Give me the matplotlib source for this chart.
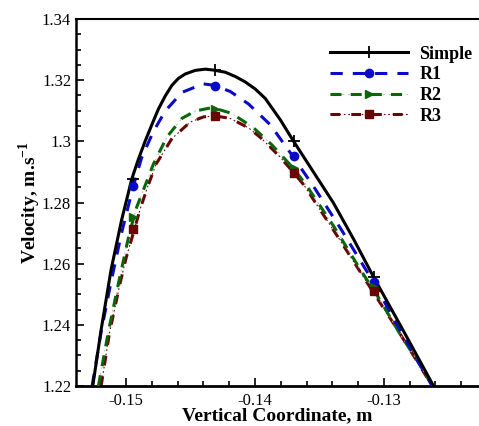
import matplotlib
matplotlib.use('Agg')
import matplotlib.pyplot as plt
from matplotlib.ticker import MultipleLocator, FuncFormatter
from matplotlib.legend_handler import HandlerTuple

plt.rcParams['font.family'] = ['Liberation Serif', 'DejaVu Serif']
plt.rcParams['mathtext.fontset'] = 'custom'
plt.rcParams['mathtext.rm'] = 'Liberation Serif:bold'
plt.rcParams['mathtext.bf'] = 'Liberation Serif:bold'
plt.rcParams['axes.unicode_minus'] = False

# values
x_simple = [-0.15259, -0.15194, -0.15117, -0.15035, -0.14956, -0.14907, -0.14852, -0.14800,
            -0.14749, -0.14697, -0.14645, -0.14594, -0.14542, -0.14464, -0.14386, -0.14322,
            -0.14231, -0.14153, -0.14075, -0.13998, -0.13920, -0.13803, -0.13702, -0.13547,
            -0.13392, -0.13236, -0.13081, -0.12848, -0.12615]
y_simple = [1.2200, 1.2384, 1.2580, 1.2743, 1.2877, 1.2939, 1.3001, 1.3055,
            1.3106, 1.3148, 1.3183, 1.3206, 1.3220, 1.3232, 1.3236, 1.3233,
            1.3226, 1.3212, 1.3194, 1.3171, 1.3140, 1.3070, 1.3001, 1.2900,
            1.2799, 1.2681, 1.2557, 1.2380, 1.2200]

x_r1 = [-0.15264, -0.15194, -0.15117, -0.15035, -0.14946, -0.14880, -0.14790, -0.14697,
        -0.14567, -0.14402, -0.14316, -0.14192, -0.14050, -0.13881, -0.13708, -0.13545,
        -0.13324, -0.13083, -0.12871, -0.12625]
y_r1 = [1.2200, 1.2377, 1.2541, 1.2701, 1.2851, 1.2946, 1.3031, 1.3099,
        1.3160, 1.3188, 1.3183, 1.3163, 1.3122, 1.3054, 1.2952, 1.2852,
        1.2707, 1.2541, 1.2380, 1.2200]

x_r2 = [-0.15215, -0.15138, -0.15057, -0.14974, -0.14917, -0.14845, -0.14788, -0.14684,
        -0.14567, -0.14464, -0.14361, -0.14295, -0.14179, -0.14011, -0.13868, -0.13705,
        -0.13609, -0.13389, -0.13182, -0.13040, -0.12871, -0.12755, -0.12622]
y_r2 = [1.2200, 1.2377, 1.2541, 1.2701, 1.2786, 1.2864, 1.2926, 1.3014,
        1.3075, 1.3099, 1.3108, 1.3106, 1.3091, 1.3044, 1.2988, 1.2913,
        1.2861, 1.2722, 1.2580, 1.2488, 1.2367, 1.2292, 1.2200]

x_r3 = [-0.15194, -0.15130, -0.15047, -0.15000, -0.14936, -0.14891, -0.14831, -0.14767,
        -0.14645, -0.14503, -0.14399, -0.14308, -0.14192, -0.14050, -0.13959, -0.13817,
        -0.13705, -0.13622, -0.13350, -0.13091, -0.12923, -0.12819, -0.12625]
y_r3 = [1.2200, 1.2372, 1.2536, 1.2619, 1.2712, 1.2779, 1.2854, 1.2926,
        1.3009, 1.3063, 1.3080, 1.3083, 1.3075, 1.3044, 1.3013, 1.2954,
        1.2900, 1.2858, 1.2683, 1.2512, 1.2403, 1.2333, 1.2200]

# symbol positions
mk_x = [-0.1495, -0.1431, -0.1370, -0.1308]
mk_simple = [1.2878, 1.3232, 1.3001, 1.2557]
mk_r1 = [1.2855, 1.3182, 1.2952, 1.2541]
mk_r2 = [1.2752, 1.3106, 1.2912, 1.2525]
mk_r3 = [1.2713, 1.3083, 1.2898, 1.2512]

labels = ['Simple', 'R1', 'R2', 'R3']

fig = plt.figure(figsize=(4.79, 4.26), dpi=100)
ax = fig.add_axes([76/479, 1 - 386/426, 1 - 76/479, 367/426])

c_blue = '#0a0ac8'
c_green = '#0b650b'
c_red = '#680606'

l0, = ax.plot(x_simple, y_simple, color='black', lw=2.2, zorder=5)
m0, = ax.plot(mk_x, mk_simple, ls='none', marker='+', ms=8, mew=1.3, color='black', zorder=6)

l1, = ax.plot(x_r1, y_r1, color=c_blue, lw=2.2, dashes=(4, 3.3), zorder=4)
m1, = ax.plot(mk_x, mk_r1, ls='none', marker='o', ms=6, color=c_blue, zorder=6)

t2, = ax.plot(x_r2, y_r2, color='#a8c8a8', lw=0.7, dashes=(2, 4), zorder=3)
l2, = ax.plot(x_r2, y_r2, color=c_green, lw=2.2, dashes=(3.6, 3.0), zorder=3)
m2, = ax.plot(mk_x, mk_r2, ls='none', marker='>', ms=6, color=c_green, zorder=6)

t3, = ax.plot(x_r3, y_r3, color=c_red, lw=0.8, dashes=(1.5, 2.5), zorder=2)
l3, = ax.plot(x_r3, y_r3, color=c_red, lw=2.2, dashes=(3.2, 3.6), zorder=2)
m3, = ax.plot(mk_x, mk_r3, ls='none', marker='s', ms=6, color=c_red, zorder=6)

ax.set_xlim(-0.15389, -0.12262)
ax.set_ylim(1.22, 1.34)

ax.xaxis.set_major_locator(MultipleLocator(0.01))
ax.xaxis.set_minor_locator(MultipleLocator(0.002))
ax.yaxis.set_major_locator(MultipleLocator(0.02))
ax.yaxis.set_minor_locator(MultipleLocator(0.005))
ax.xaxis.set_major_formatter(FuncFormatter(lambda v, p: '%g' % round(v, 4)))
ax.yaxis.set_major_formatter(FuncFormatter(lambda v, p: '%g' % round(v, 4)))

ax.tick_params(which='both', direction='in', top=False, right=False, labelsize=12, width=1.2)
ax.tick_params(which='major', length=6)
ax.tick_params(which='minor', length=3.6)
ax.tick_params(axis='x', pad=5)
ax.tick_params(axis='y', pad=3.5)

ax.spines['right'].set_visible(False)
ax.spines['left'].set_linewidth(1.8)
ax.spines['bottom'].set_linewidth(2.0)
ax.spines['top'].set_linewidth(1.5)

ax.set_xlabel('Vertical Coordinate, m', fontsize=14, fontweight='bold', labelpad=-1)
ax.set_ylabel('Velocity, m.s$^{-1}$', fontsize=14, fontweight='bold', labelpad=-1)

ax.legend([(l0, m0), (l1, m1), (t2, l2, m2), (t3, l3, m3)],
          labels, handler_map={tuple: HandlerTuple(ndivide=1)},
          loc='upper left', bbox_to_anchor=(0.63, 0.927), frameon=False,
          prop={'weight': 'bold', 'size': 13}, handlelength=4.3, handletextpad=0.65,
          labelspacing=0.2, borderpad=0, borderaxespad=0)

fig.savefig('out.png', dpi=100)
